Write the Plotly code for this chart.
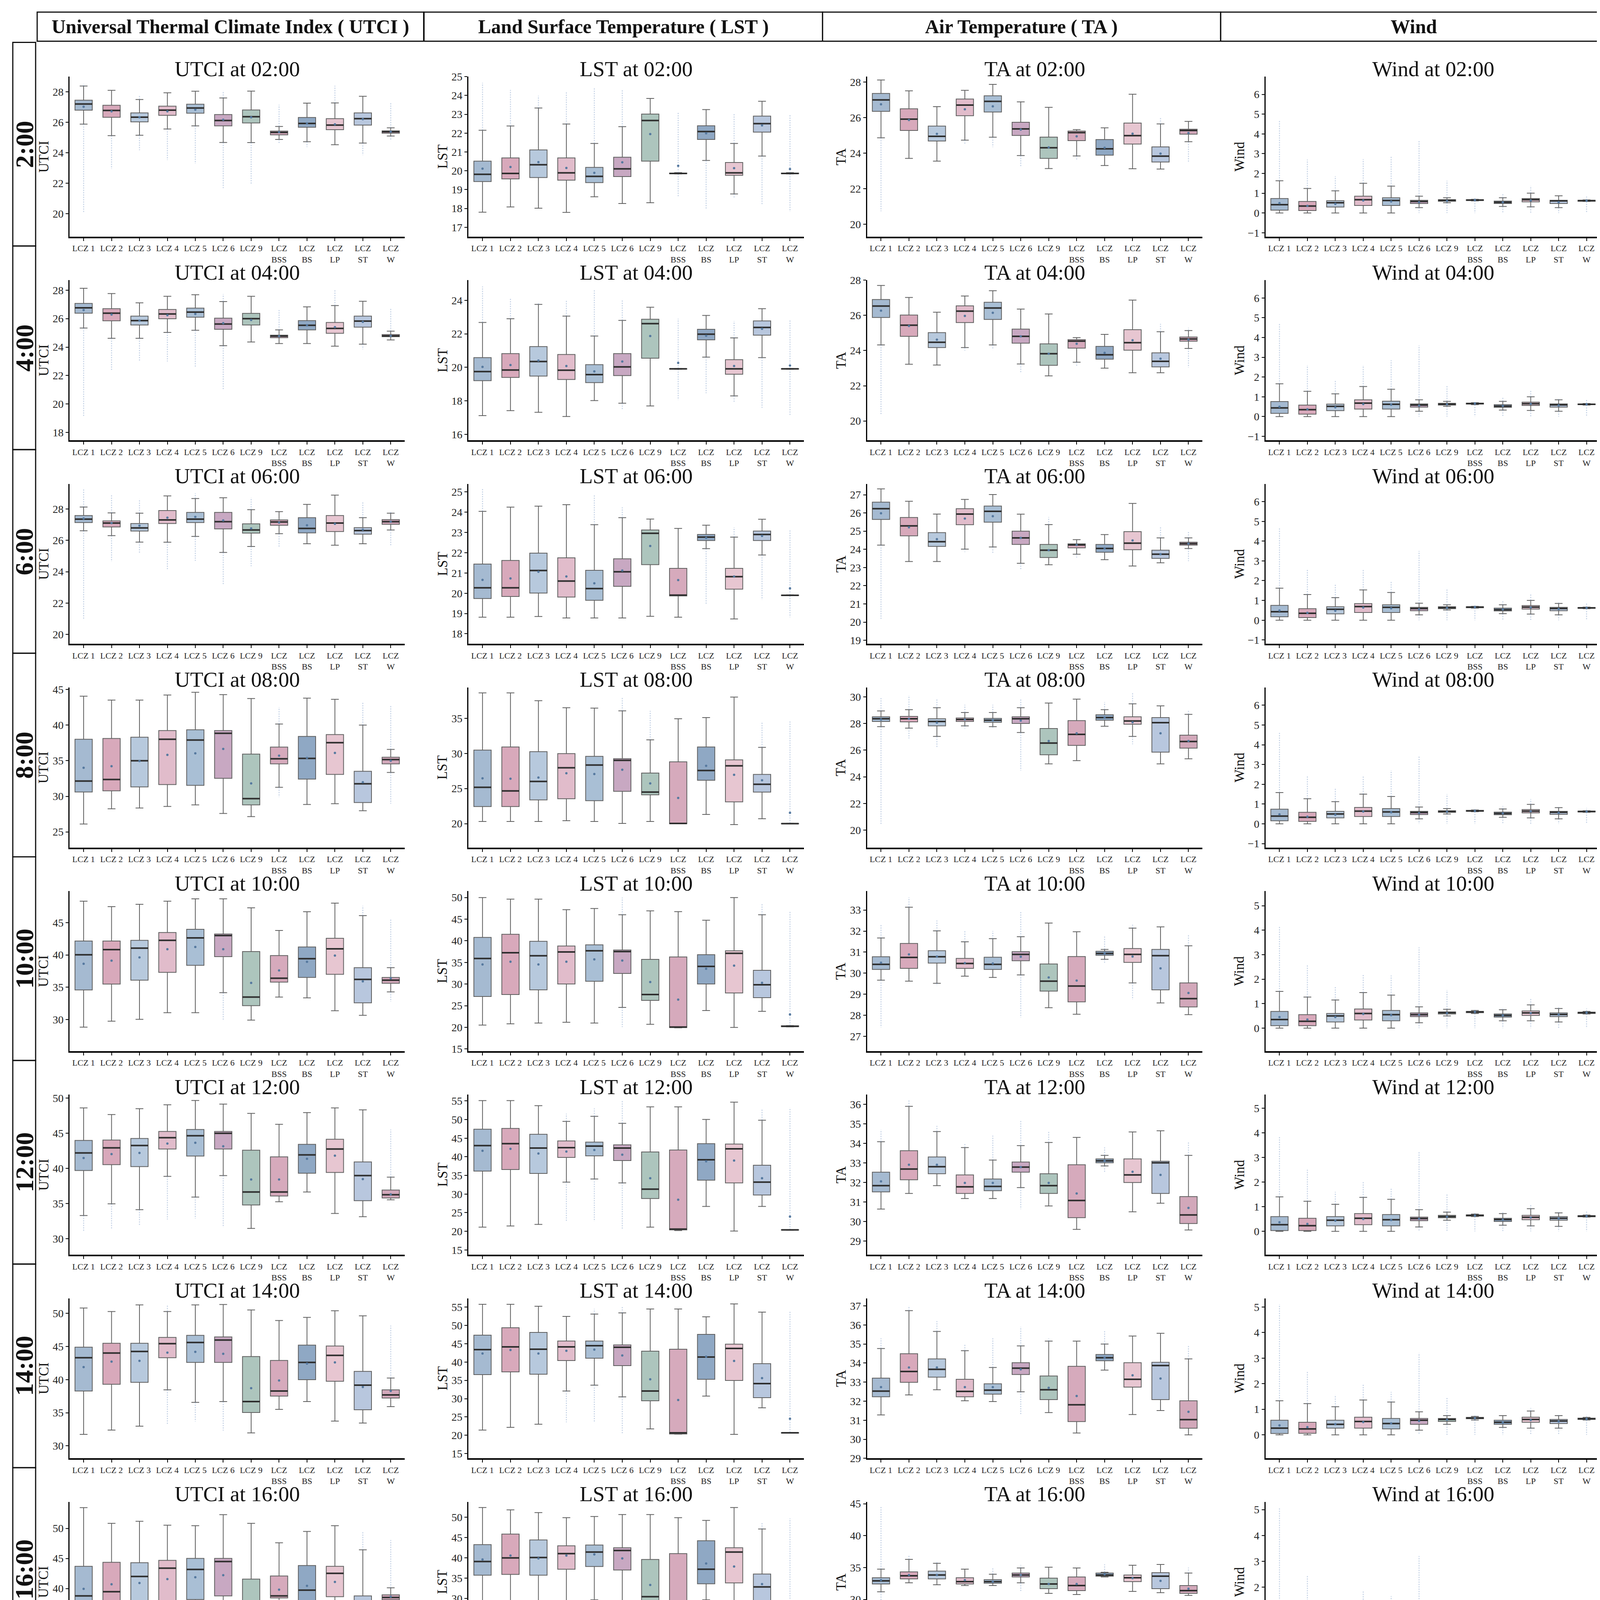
import plotly.graph_objects as go

CATS = ['LCZ 1', 'LCZ 2', 'LCZ 3', 'LCZ 4', 'LCZ 5', 'LCZ 6', 'LCZ 9',
        'LCZ<br>BSS', 'LCZ<br>BS', 'LCZ<br>LP', 'LCZ<br>ST', 'LCZ<br>W']
HOURS = ['02', '04', '06', '08', '10', '12', '14', '16', '18', '20', '22']
ROW_LABELS = ['2:00', '4:00', '6:00', '8:00', '10:00', '12:00', '14:00', '16:00', '18:00', '20:00', '22:00']
VARS = ['UTCI', 'LST', 'TA', 'Wind']
HEADERS = ['Universal Thermal Climate Index ( UTCI )', 'Land Surface Temperature ( LST )',
           'Air Temperature ( TA )', 'Wind']
N = None

# ---------------- 02:00 ----------------
UTCI_02_LO = [25.88, 25.13, 25.15, 25.56, 25.77, 24.68, 24.67, 24.88, 24.73, 24.53, 24.64, 25.10]
UTCI_02_Q1 = [26.80, 26.33, 26.03, 26.46, 26.60, 25.77, 25.96, 25.18, 25.68, 25.52, 25.82, 25.29]
UTCI_02_MED = [27.20, 26.78, 26.34, 26.80, 26.94, 26.12, 26.37, 25.34, 25.93, 25.82, 26.24, 25.38]
UTCI_02_Q3 = [27.45, 27.12, 26.62, 27.06, 27.19, 26.51, 26.81, 25.43, 26.32, 26.24, 26.62, 25.44]
UTCI_02_HI = [28.38, 28.10, 27.50, 27.94, 28.04, 27.60, 28.05, 25.73, 27.26, 27.27, 27.71, 25.64]
UTCI_02_MEAN = [27.02, 26.72, 26.33, 26.72, 26.83, 26.17, 26.33, 25.36, 25.93, 25.87, 26.21, 25.38]
UTCI_02_OHI = [28.55, N, 27.80, N, N, 28.07, N, 27.15, N, 28.40, N, 27.26]
UTCI_02_OLO = [20.07, 22.95, 24.17, 23.53, 23.29, 21.69, 21.96, 24.62, 24.38, N, 23.85, 24.79]

LST_02_LO = [17.80, 18.08, 18.01, 17.79, 18.62, 18.26, 18.30, 19.83, 20.55, 18.77, 20.78, 19.83]
LST_02_Q1 = [19.43, 19.57, 19.64, 19.50, 19.37, 19.69, 20.51, 19.84, 21.66, 19.76, 22.05, 19.84]
LST_02_MED = [19.81, 19.86, 20.32, 19.89, 19.70, 20.10, 22.67, 19.86, 22.08, 19.89, 22.50, 19.86]
LST_02_Q3 = [20.51, 20.68, 21.11, 20.68, 20.18, 20.72, 23.01, 19.88, 22.39, 20.44, 22.90, 19.88]
LST_02_HI = [22.15, 22.38, 23.33, 22.48, 21.45, 22.34, 23.84, 19.90, 23.25, 21.45, 23.69, 19.90]
LST_02_MEAN = [20.11, 20.20, 20.46, 20.15, 19.89, 20.45, 21.95, 20.26, 21.99, 20.14, 22.41, 20.09]
LST_02_OHI = [24.67, 24.29, 23.98, 24.20, 24.42, 24.29, N, 23.10, N, 23.01, N, 23.00]
LST_02_OLO = [N, N, N, N, N, N, N, 18.60, 17.96, 18.52, 18.17, 17.83]

TA_02_LO = [24.86, 23.70, 23.55, 24.73, 24.89, 23.86, 23.13, 23.84, 23.30, 23.12, 23.10, 24.64]
TA_02_Q1 = [26.35, 25.27, 24.68, 26.10, 26.31, 24.99, 23.70, 24.70, 23.88, 24.51, 23.50, 25.06]
TA_02_MED = [26.99, 25.91, 24.94, 26.70, 26.91, 25.36, 24.30, 25.15, 24.24, 24.98, 23.83, 25.27]
TA_02_Q3 = [27.35, 26.49, 25.52, 27.04, 27.22, 25.73, 24.90, 25.24, 24.76, 25.69, 24.35, 25.34]
TA_02_HI = [28.11, 27.50, 26.61, 27.53, 27.86, 26.88, 26.57, 25.32, 25.42, 27.31, 25.64, 25.78]
TA_02_MEAN = [26.74, 25.86, 25.08, 26.46, 26.63, 25.32, 24.32, 24.94, 24.30, 25.09, 23.97, 25.13]
TA_02_OHI = [N, N, N, N, N, N, N, N, N, N, 26.03, N]
TA_02_OLO = [20.73, N, N, 24.48, 24.34, 23.23, N, 23.58, N, N, N, 23.49]

WIND_02_LO = [0, 0, 0, 0, 0, 0.27, 0.52, 0.61, 0.33, 0.31, 0.27, 0.58]
WIND_02_Q1 = [0.14, 0.12, 0.30, 0.38, 0.38, 0.48, 0.59, 0.63, 0.48, 0.56, 0.48, 0.59]
WIND_02_MED = [0.42, 0.35, 0.52, 0.67, 0.63, 0.58, 0.64, 0.65, 0.54, 0.67, 0.61, 0.62]
WIND_02_Q3 = [0.73, 0.58, 0.62, 0.85, 0.77, 0.64, 0.67, 0.67, 0.60, 0.73, 0.64, 0.64]
WIND_02_HI = [1.63, 1.24, 1.12, 1.50, 1.36, 0.85, 0.77, 0.69, 0.77, 1.00, 0.87, 0.66]
WIND_02_MEAN = [0.50, 0.36, 0.46, 0.63, 0.58, 0.54, 0.61, 0.65, 0.54, 0.63, 0.54, 0.62]
WIND_02_OHI = [4.70, 2.70, 1.86, 2.72, 2.86, 3.67, 1.63, 0.75, 0.95, 1.37, N, 0.83]
WIND_02_OLO = [N, N, N, N, N, 0, 0, 0, 0, 0, 0, 0]

# ---------------- 04:00 ----------------
UTCI_04_LO = [25.34, 24.62, 24.62, 25.03, 25.18, 24.10, 24.36, 24.25, 24.25, 24.06, 24.21, 24.50]
UTCI_04_Q1 = [26.38, 25.85, 25.55, 25.99, 26.10, 25.25, 25.55, 24.66, 25.21, 24.97, 25.40, 24.73]
UTCI_04_MED = [26.76, 26.38, 25.86, 26.33, 26.46, 25.62, 26.00, 24.77, 25.53, 25.31, 25.83, 24.79]
UTCI_04_Q3 = [27.07, 26.70, 26.18, 26.64, 26.74, 26.03, 26.37, 24.84, 25.86, 25.73, 26.18, 24.88]
UTCI_04_HI = [28.13, 27.76, 27.11, 27.57, 27.68, 27.20, 27.57, 25.21, 26.83, 26.92, 27.22, 25.12]
UTCI_04_MEAN = [26.60, 26.29, 25.86, 26.24, 26.33, 25.68, 25.90, 24.77, 25.53, 25.40, 25.77, 24.79]
UTCI_04_OHI = [N, N, N, N, N, 27.72, N, 26.60, N, 28.00, N, 26.70]
UTCI_04_OLO = [19.10, 22.34, 22.99, 22.99, 22.61, 20.98, N, N, N, N, 23.85, N]

LST_04_LO = [17.12, 17.42, 17.32, 17.07, 18.02, 17.86, 17.70, 19.89, 20.61, 18.30, 20.58, 19.89]
LST_04_Q1 = [19.21, 19.40, 19.48, 19.28, 19.09, 19.51, 20.55, 19.90, 21.64, 19.59, 21.92, 19.90]
LST_04_MED = [19.75, 19.84, 20.35, 19.83, 19.57, 20.03, 22.61, 19.91, 21.98, 19.91, 22.38, 19.91]
LST_04_Q3 = [20.58, 20.82, 21.24, 20.77, 20.16, 20.82, 22.87, 19.92, 22.27, 20.46, 22.77, 19.92]
LST_04_HI = [22.68, 22.90, 23.76, 23.06, 21.87, 22.80, 23.59, 19.93, 23.10, 21.76, 23.50, 19.93]
LST_04_MEAN = [20.03, 20.14, 20.41, 20.08, 19.76, 20.35, 21.87, 20.27, 21.89, 20.08, 22.30, 20.11]
LST_04_OHI = [24.83, 24.10, 23.90, 24.00, 24.60, 24.00, N, 22.90, N, 22.76, N, 22.85]
LST_04_OLO = [N, N, N, N, N, 17.50, N, 18.06, 18.46, 17.90, 17.59, 17.12]

TA_04_LO = [24.32, 23.22, 23.18, 24.17, 24.32, 23.24, 22.56, 23.34, 23.00, 22.74, 22.74, 24.12]
TA_04_Q1 = [25.88, 24.81, 24.17, 25.59, 25.77, 24.42, 23.16, 24.14, 23.51, 24.02, 23.07, 24.53]
TA_04_MED = [26.53, 25.44, 24.47, 26.24, 26.42, 24.81, 23.82, 24.54, 23.76, 24.45, 23.39, 24.66]
TA_04_Q3 = [26.90, 26.02, 25.02, 26.54, 26.75, 25.22, 24.38, 24.62, 24.24, 25.19, 23.87, 24.77]
TA_04_HI = [27.70, 27.02, 26.18, 27.10, 27.40, 26.36, 26.08, 24.74, 24.92, 26.87, 25.07, 25.14]
TA_04_MEAN = [26.27, 25.40, 24.62, 25.97, 26.15, 24.81, 23.82, 24.39, 23.87, 24.59, 23.54, 24.62]
TA_04_OHI = [N, N, N, N, N, N, N, N, N, N, 25.52, 25.30]
TA_04_OLO = [20.34, N, N, 24.00, 24.05, 22.74, N, 23.10, N, N, N, 23.04]

WIND_04_LO = [0, 0, 0, 0, 0, 0.27, 0.52, 0.60, 0.33, 0.31, 0.27, 0.58]
WIND_04_Q1 = [0.16, 0.12, 0.30, 0.38, 0.38, 0.48, 0.58, 0.63, 0.47, 0.56, 0.48, 0.60]
WIND_04_MED = [0.44, 0.35, 0.52, 0.68, 0.62, 0.58, 0.63, 0.66, 0.53, 0.65, 0.59, 0.62]
WIND_04_Q3 = [0.76, 0.58, 0.63, 0.85, 0.78, 0.64, 0.67, 0.68, 0.60, 0.73, 0.64, 0.64]
WIND_04_HI = [1.66, 1.28, 1.15, 1.52, 1.38, 0.85, 0.77, 0.70, 0.77, 1.00, 0.85, 0.66]
WIND_04_MEAN = [0.50, 0.37, 0.47, 0.63, 0.60, 0.55, 0.62, 0.66, 0.54, 0.64, 0.56, 0.62]
WIND_04_OHI = [4.70, 2.60, 1.85, 2.60, 2.85, 3.60, 1.60, 0.75, 0.95, 1.33, 0.90, 0.85]
WIND_04_OLO = [N, N, N, N, N, 0, 0, 0, 0, 0, 0, 0]

# ---------------- 06:00 ----------------
UTCI_06_LO = [26.61, 26.30, 25.89, 25.88, 26.25, 25.23, 25.61, 26.42, 25.78, 25.69, 25.78, 26.66]
UTCI_06_Q1 = [27.13, 26.85, 26.59, 27.07, 27.13, 26.73, 26.46, 26.96, 26.47, 26.56, 26.39, 27.02]
UTCI_06_MED = [27.35, 27.10, 26.79, 27.30, 27.35, 27.19, 26.66, 27.17, 26.76, 27.10, 26.62, 27.19]
UTCI_06_Q3 = [27.58, 27.24, 27.07, 27.90, 27.78, 27.78, 27.05, 27.30, 27.44, 27.58, 26.81, 27.32]
UTCI_06_HI = [28.12, 27.75, 27.73, 28.83, 28.66, 28.71, 27.95, 27.83, 28.29, 28.88, 27.44, 27.73]
UTCI_06_MEAN = [27.39, 27.10, 26.93, 27.44, 27.49, 27.27, 26.76, 27.13, 26.96, 27.05, 26.68, 27.19]
UTCI_06_OHI = [29.30, 28.88, 28.63, N, 29.00, N, 28.71, N, N, N, 28.49, 27.85]
UTCI_06_OLO = [20.95, 24.64, 25.15, 24.13, 24.69, 23.16, 24.35, 25.60, N, N, N, 25.69]

LST_06_LO = [18.82, 18.82, 18.85, 18.78, 18.78, 18.78, 18.86, 18.82, 22.20, 18.73, 21.89, 19.88]
LST_06_Q1 = [19.74, 19.84, 20.01, 19.81, 19.65, 20.34, 21.41, 19.87, 22.60, 20.20, 22.60, 19.89]
LST_06_MED = [20.27, 20.27, 21.12, 20.60, 20.23, 21.06, 22.96, 19.91, 22.77, 20.82, 22.90, 19.90]
LST_06_Q3 = [21.44, 21.62, 21.98, 21.75, 21.13, 21.70, 23.12, 21.23, 22.90, 21.23, 23.07, 19.91]
LST_06_HI = [24.04, 24.25, 24.30, 24.37, 23.38, 23.73, 23.66, 23.20, 23.36, 22.77, 23.65, 19.92]
LST_06_MEAN = [20.66, 20.73, 21.06, 20.83, 20.49, 21.12, 22.33, 20.65, 22.73, 20.83, 22.83, 20.24]
LST_06_OHI = [25.20, N, N, N, 24.87, 24.24, N, N, N, 23.25, N, 23.10]
LST_06_OLO = [N, N, N, N, N, N, N, N, 19.48, N, 19.68, 18.82]

TA_06_LO = [24.23, 23.33, 23.33, 24.01, 24.13, 23.23, 23.15, 23.73, 23.43, 23.08, 23.26, 24.04]
TA_06_Q1 = [25.64, 24.74, 24.16, 25.35, 25.49, 24.27, 23.55, 24.08, 23.84, 23.98, 23.50, 24.23]
TA_06_MED = [26.23, 25.29, 24.42, 25.94, 26.09, 24.63, 23.95, 24.24, 24.05, 24.34, 23.73, 24.31]
TA_06_Q3 = [26.59, 25.75, 24.92, 26.23, 26.38, 25.00, 24.27, 24.30, 24.27, 24.97, 23.95, 24.39]
TA_06_HI = [27.32, 26.64, 25.94, 26.74, 27.01, 25.93, 25.36, 24.53, 24.81, 26.52, 24.63, 24.63]
TA_06_MEAN = [25.98, 25.21, 24.56, 25.69, 25.82, 24.63, 23.95, 24.24, 24.05, 24.49, 23.73, 24.31]
TA_06_OHI = [N, N, N, N, N, N, 25.77, N, N, N, 25.21, 25.00]
TA_06_OLO = [20.18, N, N, 23.85, 23.75, 22.90, N, 23.55, N, N, N, 23.35]

WIND_06_LO = [0, 0, 0, 0, 0, 0.27, 0.52, 0.61, 0.33, 0.31, 0.27, 0.58]
WIND_06_Q1 = [0.17, 0.13, 0.32, 0.39, 0.39, 0.48, 0.58, 0.63, 0.47, 0.56, 0.48, 0.60]
WIND_06_MED = [0.43, 0.35, 0.55, 0.69, 0.65, 0.59, 0.63, 0.66, 0.53, 0.66, 0.59, 0.62]
WIND_06_Q3 = [0.75, 0.58, 0.68, 0.84, 0.78, 0.65, 0.68, 0.68, 0.61, 0.74, 0.65, 0.64]
WIND_06_HI = [1.62, 1.30, 1.14, 1.53, 1.40, 0.86, 0.78, 0.70, 0.78, 1.00, 0.85, 0.66]
WIND_06_MEAN = [0.49, 0.37, 0.48, 0.64, 0.60, 0.55, 0.62, 0.66, 0.54, 0.64, 0.56, 0.62]
WIND_06_OHI = [4.68, 2.60, 1.80, 2.56, 1.95, 3.50, 1.55, 0.75, 0.95, 1.30, 0.90, 0.85]
WIND_06_OLO = [N, N, N, N, N, 0, 0, 0, 0, 0, 0, 0]

# ---------------- 08:00 ----------------
UTCI_08_LO = [26.10, 28.24, 28.35, 28.57, 28.79, 27.58, 27.14, 31.26, 28.85, 28.96, 27.97, 33.35]
UTCI_08_Q1 = [30.60, 30.77, 31.32, 31.65, 31.54, 32.53, 28.79, 34.56, 32.42, 33.08, 29.12, 34.56]
UTCI_08_MED = [32.14, 32.36, 35.00, 38.02, 37.91, 38.85, 29.67, 35.27, 35.33, 37.53, 31.76, 35.16]
UTCI_08_Q3 = [38.02, 38.13, 38.30, 39.23, 39.34, 39.23, 35.93, 36.92, 38.41, 38.68, 33.52, 35.49]
UTCI_08_HI = [44.07, 43.52, 43.52, 44.23, 44.62, 44.29, 43.74, 40.16, 43.79, 43.63, 40.00, 36.59]
UTCI_08_MEAN = [34.01, 34.23, 34.95, 35.82, 36.04, 36.65, 31.81, 35.71, 35.38, 36.10, 31.98, 35.00]
UTCI_08_OHI = [N, N, N, N, N, N, N, 42.50, N, N, 43.24, 42.70]
UTCI_08_OLO = [N, N, N, N, N, N, N, 29.90, N, N, N, 28.96]

LST_08_LO = [20.31, 20.31, 20.31, 20.42, 20.31, 20.03, 20.31, 19.98, 21.31, 19.86, 20.70, 19.98]
LST_08_Q1 = [22.43, 22.43, 23.38, 23.55, 23.27, 24.60, 24.10, 19.99, 26.17, 23.10, 24.50, 19.99]
LST_08_MED = [25.17, 24.66, 26.01, 27.96, 28.35, 29.02, 24.50, 20.03, 27.57, 28.24, 25.61, 20.00]
LST_08_Q3 = [30.47, 30.92, 30.25, 29.97, 29.58, 29.25, 27.20, 28.80, 30.92, 29.08, 27.01, 20.02]
LST_08_HI = [38.63, 38.63, 37.51, 36.51, 36.45, 36.06, 31.93, 34.94, 35.11, 38.02, 30.87, 20.04]
LST_08_MEAN = [26.45, 26.40, 26.56, 27.18, 27.07, 27.68, 25.73, 23.66, 28.24, 26.96, 26.17, 21.54]
LST_08_OHI = [N, N, N, N, N, 37.90, 36.06, N, N, N, 34.55, 34.55]
LST_08_OLO = [N, N, N, N, N, N, N, N, N, N, N, N]

TA_08_LO = [27.76, 27.65, 27.03, 27.82, 27.76, 27.32, 24.97, 25.21, 27.79, 27.03, 24.97, 25.35]
TA_08_Q1 = [28.15, 28.12, 27.82, 28.15, 28.09, 28.00, 25.65, 26.35, 28.24, 27.94, 25.85, 26.15]
TA_08_MED = [28.35, 28.35, 28.15, 28.29, 28.24, 28.35, 26.53, 27.18, 28.44, 28.18, 28.06, 26.65]
TA_08_Q3 = [28.50, 28.53, 28.35, 28.41, 28.38, 28.50, 27.62, 28.21, 28.65, 28.50, 28.44, 27.12]
TA_08_HI = [28.94, 29.03, 29.18, 28.82, 28.82, 29.18, 29.53, 29.82, 29.03, 29.47, 29.32, 28.68]
TA_08_MEAN = [28.29, 28.35, 28.06, 28.29, 28.24, 28.21, 26.68, 27.26, 28.44, 28.09, 27.26, 26.68]
TA_08_OHI = [29.90, 30.10, 29.80, 29.40, 29.40, 29.80, N, N, 29.60, 30.30, N, 29.00]
TA_08_OLO = [20.44, 26.88, 26.15, 27.60, 27.60, 24.47, N, N, N, 26.44, N, N]

WIND_08_LO = [0, 0, 0, 0, 0, 0.25, 0.50, 0.61, 0.33, 0.30, 0.25, 0.58]
WIND_08_Q1 = [0.15, 0.12, 0.30, 0.37, 0.37, 0.47, 0.58, 0.63, 0.46, 0.55, 0.48, 0.60]
WIND_08_MED = [0.39, 0.33, 0.50, 0.64, 0.60, 0.57, 0.62, 0.65, 0.52, 0.64, 0.58, 0.62]
WIND_08_Q3 = [0.74, 0.58, 0.63, 0.83, 0.77, 0.63, 0.66, 0.68, 0.59, 0.72, 0.63, 0.64]
WIND_08_HI = [1.58, 1.27, 1.12, 1.50, 1.38, 0.85, 0.77, 0.70, 0.75, 0.98, 0.82, 0.66]
WIND_08_MEAN = [0.48, 0.36, 0.46, 0.62, 0.58, 0.54, 0.61, 0.65, 0.53, 0.63, 0.55, 0.62]
WIND_08_OHI = [4.60, 2.40, 1.80, 2.40, 2.70, 3.40, 1.50, 0.75, 0.90, 1.25, 0.85, 0.80]
WIND_08_OLO = [N, N, N, N, N, 0, 0, 0, 0, 0, 0, 0]

# ---------------- 10:00 ----------------
UTCI_10_LO = [28.82, 29.73, 30.03, 31.06, 31.06, 34.15, 29.91, 33.48, 33.36, 31.36, 30.64, 34.27]
UTCI_10_Q1 = [34.58, 35.48, 36.09, 37.30, 38.39, 39.73, 32.15, 35.79, 36.52, 37.00, 32.58, 35.61]
UTCI_10_MED = [40.03, 40.82, 41.06, 42.27, 42.64, 43.00, 33.48, 36.39, 39.42, 40.94, 36.21, 36.09]
UTCI_10_Q3 = [42.15, 42.15, 42.27, 43.48, 43.97, 43.24, 40.52, 39.91, 41.24, 42.58, 38.03, 36.52]
UTCI_10_HI = [48.33, 47.48, 47.85, 48.33, 48.70, 48.70, 47.30, 43.79, 46.70, 48.03, 46.09, 38.03]
UTCI_10_MEAN = [38.64, 39.12, 39.61, 40.88, 41.24, 40.88, 35.67, 37.61, 38.94, 39.91, 35.91, 36.39]
UTCI_10_OHI = [N, N, N, N, N, N, N, N, N, N, 47.60, 45.50]
UTCI_10_OLO = [N, N, N, N, N, 29.85, N, N, N, N, N, 32.76]

LST_10_LO = [20.52, 20.80, 20.98, 21.16, 20.98, 24.59, 20.70, 19.89, 23.87, 19.98, 23.69, 20.10]
LST_10_Q1 = [27.12, 27.58, 28.66, 30.02, 30.65, 32.46, 26.22, 19.95, 30.02, 27.94, 26.85, 20.15]
LST_10_MED = [35.90, 37.25, 36.53, 37.43, 37.70, 37.52, 27.58, 20.07, 34.09, 37.10, 29.84, 20.25]
LST_10_Q3 = [40.78, 41.50, 39.87, 38.79, 39.06, 37.88, 35.71, 36.26, 36.80, 37.70, 33.18, 20.35]
LST_10_HI = [50.00, 49.64, 49.64, 47.20, 47.47, 46.02, 46.93, 46.75, 44.76, 50.00, 46.02, 20.40]
LST_10_MEAN = [34.54, 35.17, 34.54, 35.17, 35.71, 35.44, 30.47, 26.40, 33.54, 34.27, 30.29, 22.97]
LST_10_OHI = [N, N, N, N, N, 50.00, N, N, N, N, 48.60, 46.75]
LST_10_OLO = [N, N, N, N, N, 20.07, N, N, N, N, N, N]

TA_10_LO = [29.67, 29.62, 29.52, 29.86, 29.80, 29.92, 28.36, 28.05, 30.66, 29.54, 28.59, 28.03]
TA_10_Q1 = [30.18, 30.23, 30.48, 30.23, 30.18, 30.59, 29.15, 28.64, 30.85, 30.51, 29.21, 28.40]
TA_10_MED = [30.42, 30.75, 30.78, 30.46, 30.42, 30.89, 29.62, 29.39, 30.94, 30.89, 30.83, 28.79]
TA_10_Q3 = [30.78, 31.41, 31.07, 30.70, 30.76, 31.02, 30.44, 30.79, 31.04, 31.17, 31.13, 29.54]
TA_10_HI = [31.67, 33.13, 32.01, 31.49, 31.64, 31.73, 32.38, 31.97, 31.13, 32.14, 32.20, 31.30]
TA_10_MEAN = [30.50, 30.89, 30.79, 30.48, 30.46, 30.78, 29.80, 29.65, 30.94, 30.79, 30.23, 29.06]
TA_10_OHI = [32.30, 33.60, 32.50, 32.00, 32.00, 32.90, N, N, 31.80, 32.30, N, 31.80]
TA_10_OLO = [27.43, N, 29.40, N, N, 27.90, N, N, 30.50, 28.75, N, N]

WIND_10_LO = [0, 0, 0, 0, 0, 0.22, 0.50, 0.60, 0.30, 0.30, 0.25, 0.58]
WIND_10_Q1 = [0.10, 0.10, 0.25, 0.33, 0.30, 0.47, 0.58, 0.63, 0.45, 0.52, 0.47, 0.60]
WIND_10_MED = [0.35, 0.28, 0.50, 0.60, 0.55, 0.55, 0.63, 0.66, 0.52, 0.62, 0.56, 0.63]
WIND_10_Q3 = [0.68, 0.55, 0.60, 0.78, 0.72, 0.62, 0.66, 0.68, 0.58, 0.70, 0.62, 0.65]
WIND_10_HI = [1.50, 1.27, 1.15, 1.45, 1.35, 0.87, 0.77, 0.72, 0.75, 0.95, 0.80, 0.68]
WIND_10_MEAN = [0.45, 0.35, 0.45, 0.58, 0.53, 0.54, 0.61, 0.66, 0.52, 0.61, 0.55, 0.63]
WIND_10_OHI = [4.15, 2.60, 1.70, 2.20, 2.15, 3.30, 1.55, 0.75, 0.85, 1.20, 0.85, 0.80]
WIND_10_OLO = [N, N, N, N, N, 0, 0, 0, 0, 0, 0, 0]

# ---------------- 12:00 ----------------
UTCI_12_LO = [33.29, 34.96, 34.12, 38.86, 35.91, 38.97, 31.45, 35.24, 36.63, 33.57, 33.12, 35.52]
UTCI_12_Q1 = [39.69, 40.53, 40.25, 42.76, 41.75, 42.76, 34.79, 36.07, 39.30, 39.42, 35.40, 35.79]
UTCI_12_MED = [42.20, 42.92, 43.26, 44.37, 44.65, 44.99, 36.63, 36.63, 41.92, 42.76, 38.97, 36.24]
UTCI_12_Q3 = [43.98, 44.04, 44.26, 45.26, 45.54, 45.26, 42.59, 41.64, 43.43, 44.15, 40.92, 36.91]
UTCI_12_HI = [48.61, 47.66, 48.50, 49.05, 49.67, 49.16, 47.83, 46.27, 47.94, 48.61, 48.33, 38.75]
UTCI_12_MEAN = [41.48, 42.03, 42.20, 43.54, 43.65, 43.15, 38.41, 38.41, 41.36, 41.81, 38.47, 36.30]
UTCI_12_OHI = [N, N, N, N, N, N, N, N, N, N, N, 45.54]
UTCI_12_OLO = [31.06, 31.34, 31.90, 32.73, 32.84, 31.62, N, N, N, N, N, N]

LST_12_LO = [21.10, 21.42, 21.84, 33.21, 34.05, 33.00, 21.10, 20.20, 26.68, 20.05, 26.68, 20.30]
LST_12_Q1 = [36.16, 36.58, 35.53, 39.84, 40.26, 39.00, 28.79, 20.37, 33.74, 33.00, 29.74, 20.34]
LST_12_MED = [43.00, 43.53, 42.37, 42.47, 42.89, 42.37, 31.32, 20.58, 39.21, 42.16, 33.21, 20.37]
LST_12_Q3 = [47.42, 47.63, 46.05, 44.26, 43.95, 43.21, 41.32, 41.84, 43.53, 43.42, 37.74, 20.40]
LST_12_HI = [55.10, 55.10, 53.74, 49.53, 50.89, 49.00, 53.42, 53.42, 50.05, 54.68, 49.84, 20.43]
LST_12_MEAN = [41.63, 42.16, 40.89, 41.42, 41.84, 40.58, 34.26, 28.47, 38.79, 39.00, 34.26, 23.95]
LST_12_OHI = [N, N, N, 51.60, 53.00, 55.00, N, N, N, N, 52.70, 53.20]
LST_12_OLO = [N, N, N, 22.68, 22.68, 20.58, N, N, N, N, N, N]

TA_12_LO = [30.64, 31.44, 31.84, 31.18, 31.18, 31.74, 30.80, 29.60, 32.85, 30.50, 30.94, 29.57]
TA_12_Q1 = [31.52, 32.14, 32.45, 31.44, 31.58, 32.53, 31.44, 30.20, 33.01, 32.00, 31.44, 29.90]
TA_12_MED = [31.84, 32.69, 32.81, 31.78, 31.80, 32.79, 31.84, 31.08, 33.11, 32.39, 33.01, 30.34]
TA_12_Q3 = [32.53, 33.63, 33.31, 32.39, 32.18, 33.05, 32.45, 32.91, 33.21, 33.21, 33.09, 31.28]
TA_12_HI = [34.09, 35.90, 34.61, 33.79, 33.15, 33.89, 34.05, 34.31, 33.39, 34.59, 34.65, 33.39]
TA_12_MEAN = [32.06, 32.91, 32.91, 31.98, 31.98, 32.79, 31.98, 31.44, 33.11, 32.55, 32.39, 30.70]
TA_12_OHI = [34.70, 36.20, 34.90, 34.00, 34.40, 35.20, 34.60, N, 33.80, N, N, 34.10]
TA_12_OLO = [N, N, N, N, N, 30.64, N, N, 32.50, N, N, N]

WIND_12_LO = [0, 0, 0, 0, 0, 0.18, 0.45, 0.60, 0.25, 0.22, 0.20, 0.58]
WIND_12_Q1 = [0.03, 0.03, 0.22, 0.27, 0.22, 0.43, 0.55, 0.62, 0.40, 0.47, 0.45, 0.59]
WIND_12_MED = [0.27, 0.23, 0.45, 0.53, 0.47, 0.52, 0.60, 0.65, 0.48, 0.57, 0.53, 0.62]
WIND_12_Q3 = [0.60, 0.53, 0.60, 0.72, 0.68, 0.58, 0.65, 0.67, 0.53, 0.65, 0.60, 0.64]
WIND_12_HI = [1.40, 1.22, 1.10, 1.38, 1.30, 0.88, 0.78, 0.70, 0.72, 0.92, 0.75, 0.66]
WIND_12_MEAN = [0.37, 0.30, 0.43, 0.50, 0.46, 0.51, 0.59, 0.64, 0.47, 0.56, 0.52, 0.62]
WIND_12_OHI = [3.85, 2.50, 1.60, 2.00, 1.75, 3.25, 1.50, 0.75, 0.80, 1.10, 0.80, 0.80]
WIND_12_OLO = [N, N, N, N, N, 0, 0, 0, 0, 0, 0, 0]

# ---------------- 14:00 ----------------
UTCI_14_LO = [31.72, 32.37, 32.96, 38.46, 36.57, 36.69, 31.95, 35.50, 36.69, 33.73, 33.43, 35.92]
UTCI_14_Q1 = [38.28, 39.29, 39.59, 43.31, 42.60, 42.60, 35.03, 37.51, 39.99, 39.76, 35.44, 37.22]
UTCI_14_MED = [43.31, 44.02, 44.26, 45.44, 45.62, 45.98, 36.69, 38.28, 42.60, 43.67, 39.17, 37.69]
UTCI_14_Q3 = [44.91, 45.50, 45.50, 46.39, 46.69, 46.45, 43.49, 42.90, 45.21, 45.09, 41.24, 38.46]
UTCI_14_HI = [50.83, 50.30, 51.30, 50.30, 51.30, 51.36, 50.53, 48.93, 49.41, 50.41, 49.64, 40.24]
UTCI_14_MEAN = [41.89, 42.72, 42.84, 44.08, 44.20, 43.91, 38.70, 39.88, 42.43, 42.60, 38.88, 38.28]
UTCI_14_OHI = [N, N, N, 51.30, N, N, N, N, N, N, N, 48.17]
UTCI_14_OLO = [N, N, N, 33.25, 33.67, 32.30, N, N, N, N, N, N]

LST_14_LO = [21.42, 22.16, 23.02, 32.08, 33.68, 30.48, 21.74, 20.30, 30.69, 20.25, 27.50, 20.60]
LST_14_Q1 = [36.56, 37.30, 36.66, 40.39, 41.03, 39.01, 29.41, 20.35, 35.28, 34.96, 30.27, 20.63]
LST_14_MED = [43.38, 44.13, 43.49, 44.13, 44.45, 44.02, 32.08, 20.67, 41.35, 43.70, 34.10, 20.67]
LST_14_Q3 = [47.32, 49.35, 48.07, 45.72, 45.72, 44.66, 42.95, 43.49, 47.54, 44.87, 39.54, 20.71]
LST_14_HI = [55.75, 55.75, 55.21, 52.44, 53.08, 53.40, 54.47, 54.47, 52.33, 55.85, 53.61, 20.74]
LST_14_MEAN = [42.31, 43.27, 42.31, 43.06, 43.38, 41.78, 35.28, 29.63, 41.46, 40.29, 35.60, 24.51]
LST_14_OHI = [N, N, N, N, 54.50, 55.20, N, N, N, N, N, 53.90]
LST_14_OLO = [N, N, N, 23.55, 23.55, 20.57, N, N, N, N, N, N]

TA_14_LO = [31.28, 32.33, 32.60, 32.02, 31.98, 32.49, 31.40, 30.33, 33.63, 31.30, 31.51, 30.23]
TA_14_Q1 = [32.23, 32.99, 33.26, 32.23, 32.37, 33.40, 32.08, 30.93, 34.12, 32.74, 32.08, 30.58]
TA_14_MED = [32.53, 33.56, 33.67, 32.51, 32.58, 33.73, 32.60, 31.81, 34.28, 33.15, 33.87, 31.03]
TA_14_Q3 = [33.21, 34.49, 34.22, 33.15, 32.91, 34.02, 33.32, 33.83, 34.45, 34.02, 34.04, 32.02]
TA_14_HI = [34.76, 36.75, 35.66, 34.65, 33.77, 34.90, 35.15, 35.15, 35.00, 35.42, 35.56, 34.22]
TA_14_MEAN = [32.74, 33.77, 33.77, 32.74, 32.74, 33.67, 32.70, 32.27, 34.28, 33.36, 33.19, 31.44]
TA_14_OHI = [35.30, 37.00, 36.20, 35.00, 35.30, 35.90, 35.30, N, 35.70, N, N, 34.90]
TA_14_OLO = [N, N, N, N, N, 31.30, N, N, N, N, N, N]

WIND_14_LO = [0, 0, 0, 0, 0, 0.18, 0.41, 0.58, 0.29, 0.26, 0.26, 0.58]
WIND_14_Q1 = [0.05, 0.06, 0.26, 0.26, 0.23, 0.41, 0.52, 0.63, 0.41, 0.49, 0.44, 0.60]
WIND_14_MED = [0.26, 0.23, 0.41, 0.52, 0.44, 0.57, 0.60, 0.66, 0.49, 0.60, 0.54, 0.63]
WIND_14_Q3 = [0.57, 0.49, 0.57, 0.69, 0.64, 0.64, 0.64, 0.68, 0.57, 0.69, 0.60, 0.65]
WIND_14_HI = [1.33, 1.22, 1.10, 1.36, 1.28, 0.90, 0.75, 0.72, 0.75, 0.93, 0.75, 0.68]
WIND_14_MEAN = [0.37, 0.30, 0.42, 0.50, 0.45, 0.54, 0.59, 0.65, 0.48, 0.58, 0.52, 0.62]
WIND_14_OHI = [5.10, 2.50, 1.56, 2.00, 1.68, 3.20, 1.48, 0.76, 0.75, 1.05, 0.78, 0.78]
WIND_14_OLO = [N, N, N, N, N, 0, 0, 0, 0, 0, 0, 0]

# ---------------- 16:00 ----------------
UTCI_16_LO = [31.82, 32.47, 32.92, 33.44, 33.31, 32.27, 31.82, 36.36, 35.06, 33.31, 32.47, 36.82]
UTCI_16_Q1 = [36.82, 37.47, 37.47, 37.79, 38.18, 38.77, 33.44, 38.44, 37.21, 38.64, 33.64, 38.12]
UTCI_16_MED = [38.77, 39.48, 42.01, 43.38, 43.18, 44.48, 34.61, 38.77, 39.74, 42.53, 36.56, 38.51]
UTCI_16_Q3 = [43.70, 44.35, 44.29, 44.68, 45.00, 45.00, 41.56, 42.08, 43.83, 43.70, 38.77, 38.96]
UTCI_16_HI = [53.44, 50.84, 51.17, 50.52, 50.45, 52.27, 50.84, 47.60, 49.48, 50.45, 46.43, 40.13]
UTCI_16_MEAN = [39.94, 40.71, 40.91, 41.56, 41.88, 42.21, 36.95, 39.81, 40.45, 41.10, 36.95, 38.64]
UTCI_16_OHI = [N, N, N, N, N, N, N, N, N, N, 49.50, 48.05]
UTCI_16_OLO = [N, N, N, N, N, N, N, N, N, N, N, 34.00]

LST_16_LO = [24.47, 22.74, 23.51, 28.52, 29.67, 28.90, 21.97, 20.45, 29.67, 21.00, 26.88, 20.55]
LST_16_Q1 = [35.74, 35.93, 35.74, 37.19, 37.86, 37.00, 28.32, 20.55, 33.62, 33.82, 28.81, 20.58]
LST_16_MED = [39.11, 40.00, 40.08, 41.04, 41.43, 41.81, 30.44, 20.81, 37.19, 41.43, 32.85, 20.62]
LST_16_Q3 = [43.26, 45.86, 44.41, 42.97, 43.16, 42.49, 39.60, 41.04, 44.22, 42.49, 36.03, 20.66]
LST_16_HI = [52.41, 51.83, 51.16, 49.90, 50.19, 50.67, 50.67, 49.90, 49.23, 52.41, 47.11, 20.70]
LST_16_MEAN = [39.60, 40.56, 39.88, 40.56, 40.85, 39.88, 33.33, 28.23, 38.63, 37.86, 33.53, 23.89]
LST_16_OHI = [N, N, N, N, N, N, N, N, N, N, 48.70, 49.70]
LST_16_OLO = [21.77, N, N, 24.00, 24.00, 20.62, N, N, N, 20.30, N, N]

TA_16_LO = [31.20, 32.61, 32.30, 32.18, 32.18, 32.61, 30.95, 30.77, 33.53, 31.26, 31.07, 30.64]
TA_16_Q1 = [32.42, 33.22, 33.22, 32.42, 32.55, 33.53, 31.69, 31.38, 33.65, 32.79, 31.69, 30.95]
TA_16_MED = [32.91, 33.71, 33.83, 32.79, 32.79, 33.83, 32.42, 32.18, 33.83, 33.40, 33.65, 31.38]
TA_16_Q3 = [33.40, 34.33, 34.45, 33.40, 33.10, 34.14, 33.34, 33.53, 34.14, 33.83, 34.20, 32.18]
TA_16_HI = [34.75, 36.29, 35.67, 34.75, 33.96, 34.94, 35.06, 34.94, 34.26, 35.37, 35.49, 34.14]
TA_16_MEAN = [33.03, 33.83, 33.83, 33.03, 32.79, 33.83, 32.42, 32.42, 33.95, 33.34, 32.91, 31.69]
TA_16_OHI = [44.60, 36.90, 36.00, N, 35.00, 35.40, N, N, 35.50, N, N, 35.00]
TA_16_OLO = [23.96, N, N, N, N, 31.20, N, N, N, N, N, N]

WIND_16_LO = [0, 0, 0, 0, 0, 0.16, 0.42, 0.58, 0.28, 0.24, 0.24, 0.58]
WIND_16_Q1 = [0.04, 0.05, 0.25, 0.22, 0.20, 0.42, 0.53, 0.62, 0.40, 0.48, 0.43, 0.60]
WIND_16_MED = [0.22, 0.20, 0.43, 0.47, 0.40, 0.55, 0.59, 0.65, 0.48, 0.58, 0.53, 0.62]
WIND_16_Q3 = [0.55, 0.50, 0.57, 0.67, 0.62, 0.62, 0.63, 0.67, 0.55, 0.66, 0.59, 0.64]
WIND_16_HI = [1.28, 1.20, 1.08, 1.33, 1.26, 0.90, 0.75, 0.72, 0.73, 0.92, 0.75, 0.67]
WIND_16_MEAN = [0.34, 0.29, 0.40, 0.46, 0.42, 0.53, 0.58, 0.64, 0.47, 0.57, 0.51, 0.62]
WIND_16_OHI = [5.05, 2.45, 1.50, 1.85, 1.65, 3.20, 1.45, 0.75, 0.75, 1.00, 0.78, 0.78]
WIND_16_OLO = [N, N, N, N, N, 0, 0, 0, 0, 0, 0, 0]

# ---------------- 18:00 ----------------
UTCI_18_LO = [32.04, 32.50, 32.04, 32.39, 32.57, 31.36, 31.01, 31.26, 32.57, 31.79, 31.36, 32.07]
UTCI_18_Q1 = [34.09, 34.52, 34.20, 34.45, 34.45, 34.55, 31.86, 33.28, 33.10, 33.84, 31.96, 33.21]
UTCI_18_MED = [34.70, 34.98, 34.70, 34.98, 34.91, 35.97, 32.67, 33.63, 33.38, 34.70, 32.92, 33.45]
UTCI_18_Q3 = [35.33, 35.79, 35.58, 36.15, 35.62, 37.00, 34.20, 34.70, 35.62, 36.29, 33.28, 33.84]
UTCI_18_HI = [37.39, 37.89, 37.74, 38.81, 37.53, 40.65, 38.77, 36.86, 39.41, 40.01, 35.16, 34.91]
UTCI_18_MEAN = [34.87, 35.26, 34.98, 35.23, 35.16, 35.62, 33.20, 34.09, 34.09, 34.98, 33.03, 33.63]
UTCI_18_OHI = [40.65, 41.90, 41.80, 42.00, 41.50, 42.78, 41.90, 39.10, 40.70, 41.90, 40.30, 38.17]
UTCI_18_OLO = [30.90, 31.60, 31.80, N, 32.10, N, N, N, N, N, N, 31.10]

LST_18_LO = [28.97, 28.14, 28.34, 30.76, 31.38, 30.00, 21.93, 20.35, 28.00, 24.14, 26.41, 20.50]
LST_18_Q1 = [33.31, 33.66, 33.10, 34.00, 34.48, 33.86, 27.31, 20.41, 30.21, 31.45, 27.66, 20.52]
LST_18_MED = [34.69, 35.17, 34.69, 35.17, 35.59, 36.07, 28.69, 20.55, 31.79, 35.17, 29.66, 20.55]
LST_18_Q3 = [36.21, 37.10, 36.21, 36.21, 36.41, 36.41, 33.52, 32.48, 34.48, 36.28, 31.45, 20.58]
LST_18_HI = [40.41, 42.48, 41.10, 39.52, 39.52, 40.41, 40.41, 39.86, 40.34, 42.28, 36.97, 20.60]
LST_18_MEAN = [34.69, 35.38, 34.69, 35.17, 35.59, 34.69, 30.34, 25.38, 32.07, 32.97, 29.86, 22.62]
LST_18_OHI = [41.80, 43.00, 42.30, 40.50, 40.30, 42.30, N, N, N, N, 39.40, 38.90]
LST_18_OLO = [21.59, 22.80, 23.30, 24.34, 23.50, 20.55, N, N, N, 20.30, N, N]

TA_18_LO = [31.26, 31.65, 31.16, 31.81, 31.81, 31.61, 29.60, 30.16, 31.02, 30.97, 29.81, 30.08]
TA_18_Q1 = [31.77, 32.15, 31.98, 31.98, 31.94, 32.29, 30.24, 30.56, 31.37, 31.74, 30.27, 30.32]
TA_18_MED = [31.98, 32.45, 32.34, 32.10, 32.02, 32.61, 30.76, 31.05, 31.61, 31.98, 31.18, 30.60]
TA_18_Q3 = [32.21, 32.79, 32.53, 32.34, 32.15, 32.77, 31.73, 31.58, 32.05, 32.29, 31.40, 30.94]
TA_18_HI = [32.85, 33.74, 33.34, 32.85, 32.50, 33.47, 33.11, 32.77, 33.02, 33.18, 32.79, 31.82]
TA_18_MEAN = [32.02, 32.50, 32.26, 32.13, 32.07, 32.42, 30.97, 31.10, 31.73, 32.02, 30.97, 30.73]
TA_18_OHI = [35.00, 34.30, 33.40, N, 32.80, 33.50, N, N, 33.10, 33.20, N, 32.30]
TA_18_OLO = [29.68, N, 30.85, N, N, 29.79, N, N, N, N, N, N]

WIND_18_LO = [0, 0, 0, 0, 0, 0.15, 0.42, 0.58, 0.28, 0.22, 0.22, 0.58]
WIND_18_Q1 = [0.03, 0.03, 0.22, 0.20, 0.18, 0.42, 0.53, 0.62, 0.40, 0.47, 0.42, 0.60]
WIND_18_MED = [0.20, 0.18, 0.43, 0.43, 0.38, 0.52, 0.58, 0.65, 0.47, 0.56, 0.52, 0.62]
WIND_18_Q3 = [0.52, 0.48, 0.58, 0.63, 0.60, 0.62, 0.62, 0.67, 0.55, 0.64, 0.59, 0.64]
WIND_18_HI = [1.22, 1.16, 1.08, 1.30, 1.25, 0.90, 0.73, 0.70, 0.72, 0.90, 0.75, 0.66]
WIND_18_MEAN = [0.32, 0.28, 0.40, 0.44, 0.40, 0.52, 0.57, 0.64, 0.47, 0.56, 0.51, 0.62]
WIND_18_OHI = [5.00, 2.45, 1.52, 1.85, 1.65, 3.20, 1.45, 0.75, 0.75, 1.00, 0.78, 0.78]
WIND_18_OLO = [N, N, N, N, N, 0, 0, 0, 0, 0, 0, 0]

# ---------------- 20:00 ----------------
UTCI_20_LO = [30.00, 30.39, 29.77, 29.70, 30.09, 30.03, 27.70, 27.17, 28.68, 29.27, 27.97, 27.44]
UTCI_20_Q1 = [31.02, 31.21, 30.68, 30.88, 31.03, 30.65, 29.12, 27.67, 29.41, 30.12, 29.03, 27.62]
UTCI_20_MED = [31.38, 31.52, 30.95, 31.30, 31.32, 30.80, 29.64, 27.97, 29.62, 30.47, 29.33, 27.82]
UTCI_20_Q3 = [31.67, 31.74, 31.23, 31.64, 31.64, 31.03, 30.38, 29.02, 29.92, 30.70, 29.77, 28.03]
UTCI_20_HI = [32.67, 32.58, 32.09, 32.80, 32.58, 31.64, 32.30, 30.73, 30.65, 31.56, 30.88, 28.65]
UTCI_20_MEAN = [31.29, 31.41, 30.88, 31.24, 31.30, 30.76, 29.71, 28.30, 29.67, 30.27, 29.44, 27.92]
UTCI_20_OHI = [N, 33.10, 32.50, 33.50, 32.90, 31.90, N, N, 31.80, 32.00, 32.00, 30.90]
UTCI_20_OLO = [26.26, 28.70, 29.40, 29.10, 29.40, 27.50, N, N, 28.40, 28.00, 27.80, N]

LST_20_LO = [27.86, 28.34, 26.96, 28.79, 29.36, 29.00, 21.87, 20.17, 25.77, 26.00, 24.66, 20.38]
LST_20_Q1 = [29.90, 30.29, 29.45, 30.26, 30.59, 30.14, 25.65, 20.41, 26.54, 28.91, 25.80, 20.40]
LST_20_MED = [30.74, 31.04, 30.50, 30.86, 31.04, 30.74, 26.37, 20.47, 26.84, 30.35, 26.31, 20.41]
LST_20_Q3 = [31.34, 31.69, 31.16, 31.22, 31.40, 31.01, 29.45, 26.66, 27.05, 30.74, 26.66, 20.43]
LST_20_HI = [33.40, 33.64, 33.70, 32.68, 32.59, 32.23, 32.65, 32.29, 27.86, 33.10, 27.89, 20.45]
LST_20_MEAN = [30.35, 30.74, 30.14, 30.50, 30.95, 30.05, 27.26, 23.13, 26.84, 28.70, 26.25, 21.51]
LST_20_OHI = [N, 34.50, 33.90, 33.50, 33.30, 33.50, N, N, 29.90, N, 30.50, 30.60]
LST_20_OLO = [21.66, 22.60, 22.90, 23.90, 23.40, 25.20, N, N, N, 20.20, N, N]

TA_20_LO = [29.32, 29.34, 28.34, 29.29, 29.59, 28.64, 26.53, 27.32, 27.65, 28.23, 26.72, 27.92]
TA_20_Q1 = [30.12, 30.04, 29.25, 30.12, 30.25, 29.75, 27.06, 27.99, 28.34, 28.98, 27.27, 28.16]
TA_20_MED = [30.49, 30.37, 29.67, 30.47, 30.57, 30.28, 27.85, 28.26, 28.57, 29.69, 27.59, 28.26]
TA_20_Q3 = [30.63, 30.52, 30.06, 30.66, 30.71, 30.49, 28.66, 28.60, 28.77, 30.20, 27.94, 28.33]
TA_20_HI = [30.79, 31.12, 30.62, 30.83, 30.84, 30.76, 30.11, 29.48, 29.43, 30.63, 28.98, 28.57]
TA_20_MEAN = [30.28, 30.23, 29.65, 30.28, 30.38, 29.94, 27.94, 28.33, 28.55, 29.61, 27.63, 28.24]
TA_20_OHI = [N, N, N, N, N, N, N, 29.95, 29.80, N, 29.70, 29.20]
TA_20_OLO = [28.60, 28.80, N, 28.60, 28.60, 26.53, N, N, N, N, 26.70, 26.72]

WIND_20_LO = [0, 0, 0, 0, 0, 0.16, 0.41, 0.54, 0.27, 0.24, 0.24, 0.54]
WIND_20_Q1 = [0.08, 0.05, 0.24, 0.18, 0.18, 0.44, 0.51, 0.61, 0.44, 0.47, 0.44, 0.59]
WIND_20_MED = [0.24, 0.24, 0.44, 0.46, 0.39, 0.54, 0.57, 0.65, 0.49, 0.59, 0.54, 0.62]
WIND_20_Q3 = [0.52, 0.49, 0.59, 0.65, 0.59, 0.65, 0.61, 0.68, 0.57, 0.68, 0.59, 0.66]
WIND_20_HI = [1.23, 1.16, 1.08, 1.31, 1.23, 0.90, 0.73, 0.73, 0.78, 0.90, 0.78, 0.70]
WIND_20_MEAN = [0.34, 0.28, 0.41, 0.44, 0.40, 0.52, 0.57, 0.65, 0.49, 0.58, 0.52, 0.62]
WIND_20_OHI = [3.53, 2.34, 1.52, 1.88, 1.67, 3.20, 1.41, 0.75, 0.80, 1.05, 0.80, 0.85]
WIND_20_OLO = [N, N, N, N, N, 0, 0, 0, 0, 0, 0, 0]

# ---------------- 22:00 ----------------
UTCI_22_LO = [29.05, 29.01, 28.63, 28.66, 29.05, 28.63, 26.30, 26.47, 27.42, 27.67, 26.54, 26.65]
UTCI_22_Q1 = [29.97, 29.97, 29.48, 29.72, 29.90, 29.33, 27.88, 26.92, 28.33, 28.80, 27.99, 26.89]
UTCI_22_MED = [30.31, 30.38, 29.79, 30.14, 30.18, 29.60, 28.54, 27.39, 28.70, 29.25, 28.35, 27.13]
UTCI_22_Q3 = [30.60, 30.63, 30.10, 30.46, 30.46, 29.86, 29.43, 28.05, 28.94, 29.57, 28.98, 27.56]
UTCI_22_HI = [31.52, 31.52, 30.96, 31.55, 31.34, 30.56, 31.27, 29.79, 29.86, 30.70, 30.49, 28.59]
UTCI_22_MEAN = [30.25, 30.25, 29.79, 30.11, 30.18, 29.53, 28.63, 27.53, 28.65, 29.15, 28.49, 27.32]
UTCI_22_OHI = [N, 31.70, 31.10, 31.90, 31.70, 31.10, N, N, 30.10, 31.70, 30.90, 29.86]
UTCI_22_OLO = [25.23, 28.00, 28.20, 28.30, 28.50, 26.51, N, N, 27.20, 27.20, N, N]

LST_22_LO = [26.21, 27.02, 25.88, 26.63, 26.86, 27.05, 21.67, 20.12, 24.12, 25.65, 23.53, 20.25]
LST_22_Q1 = [27.84, 28.26, 27.44, 27.95, 28.02, 27.84, 24.53, 20.23, 24.81, 27.05, 24.49, 20.28]
LST_22_MED = [28.42, 28.72, 28.02, 28.33, 28.49, 28.07, 25.30, 20.30, 25.07, 27.67, 24.77, 20.30]
LST_22_Q3 = [28.88, 29.07, 28.44, 28.77, 28.84, 28.30, 26.81, 24.93, 25.28, 27.98, 25.16, 20.33]
LST_22_HI = [30.51, 30.30, 30.00, 30.07, 30.00, 29.05, 29.81, 28.95, 26.05, 29.35, 26.12, 20.35]
LST_22_MEAN = [28.09, 28.37, 27.79, 28.02, 28.37, 27.67, 25.65, 22.26, 25.05, 26.58, 24.93, 21.09]
LST_22_OHI = [N, 31.00, 30.80, 30.80, 30.50, 29.40, N, N, 27.70, 30.30, 27.80, 27.70]
LST_22_OLO = [21.86, 21.60, 22.00, 22.20, 23.20, 20.23, N, N, 23.50, 20.00, 22.30, 20.90]

TA_22_LO = [27.85, 27.81, 26.95, 27.96, 28.20, 27.38, 24.68, 26.52, 26.25, 26.59, 25.30, 27.00]
TA_22_Q1 = [28.87, 28.66, 27.90, 28.85, 28.98, 28.31, 25.55, 27.00, 26.88, 27.59, 25.91, 27.13]
TA_22_MED = [29.30, 28.96, 28.10, 29.22, 29.33, 28.80, 26.43, 27.20, 27.15, 28.15, 26.13, 27.18]
TA_22_Q3 = [29.55, 29.19, 28.49, 29.44, 29.52, 28.96, 27.48, 27.37, 27.48, 28.74, 26.68, 27.24]
TA_22_HI = [29.78, 29.55, 29.23, 29.73, 29.78, 29.28, 28.87, 27.85, 28.28, 29.52, 27.81, 27.34]
TA_22_MEAN = [29.12, 28.87, 28.15, 29.06, 29.17, 28.47, 26.48, 27.18, 27.15, 28.15, 26.35, 27.18]
TA_22_OHI = [N, N, N, N, N, N, N, 28.15, N, N, 28.45, 28.05]
TA_22_OLO = [N, N, 26.80, 27.80, 27.80, 24.82, N, 26.20, N, N, N, 25.70]

WIND_22_LO = [0, 0, 0, 0, 0, 0.14, 0.45, 0.58, 0.24, 0.22, 0.22, 0.56]
WIND_22_Q1 = [0.06, 0.05, 0.24, 0.21, 0.18, 0.44, 0.53, 0.62, 0.44, 0.47, 0.45, 0.59]
WIND_22_MED = [0.22, 0.22, 0.45, 0.45, 0.40, 0.54, 0.58, 0.66, 0.50, 0.58, 0.54, 0.63]
WIND_22_Q3 = [0.54, 0.50, 0.58, 0.65, 0.61, 0.61, 0.62, 0.68, 0.58, 0.64, 0.58, 0.66]
WIND_22_HI = [1.23, 1.16, 1.08, 1.31, 1.24, 0.92, 0.74, 0.72, 0.78, 0.92, 0.79, 0.70]
WIND_22_MEAN = [0.34, 0.29, 0.41, 0.44, 0.41, 0.52, 0.58, 0.65, 0.50, 0.57, 0.52, 0.62]
WIND_22_OHI = [3.55, 2.28, 1.50, 1.85, 1.70, 3.20, 1.40, 0.75, 0.80, 1.05, 0.80, 0.75]
WIND_22_OLO = [N, N, N, N, N, 0, 0, 0, 0, 0, 0, 0]

# axis ranges (lo, hi, tick step) per row
YRANGE = {
    'UTCI': [(18.5, 29.0, 2), (17.45, 28.7, 2), (19.4, 29.6, 2), (22.8, 45.3, 5), (25.1, 49.9, 5),
             (27.7, 50.5, 5), (28.1, 52.3, 5), (27.8, 54.4, 5), (28.8, 43.2, 2), (24.9, 33.8, 1),
             (23.9, 32.1, 2)],
    'LST': [(16.5, 25.0, 1), (15.65, 25.2, 2), (17.5, 25.4, 1), (16.6, 39.4, 5), (14.5, 51.5, 5),
            (13.7, 56.7, 5), (13.7, 57.4, 5), (14.35, 53.8, 5), (16.1, 44.2, 5), (17.5, 35.1, 2),
            (17.9, 31.4, 2)],
    'TA': [(19.3, 28.3, 2), (18.9, 28.0, 2), (18.8, 27.6, 1), (18.7, 30.7, 2), (26.3, 33.9, 1),
           (28.3, 36.5, 1), (29.0, 37.4, 1), (20.2, 45.3, 5), (28.6, 35.2, 1), (25.7, 31.3, 1),
           (23.7, 30.0, 1)],
    'Wind': [(-1.2, 6.9, 1)] * 4 + [(-0.94, 5.6, 1), (-0.95, 5.55, 1), (-0.92, 5.34, 1),
                                    (-0.9, 5.3, 1), (-0.91, 5.27, 1), (-0.87, 5.15, 1), (-0.9, 5.1, 1)],
}

COLORS = ['#a5bad1', '#d8a9bb', '#b7c9dd', '#e1bccb', '#a9bfd5', '#c8a8c2', '#adc5bd',
          '#d6aabc', '#8fa8c4', '#e7c6d1', '#b8c7de', '#d2a8ba']

FONT = 'Liberation Serif'
W, H = 4169, 5931
# the page puts the figure a few px in from the left and ~21px down from the top;
# the figure is kept a little smaller than the window so nothing spills over
OY = 21
FW, FH = W - 40, H - 40
ROW0, PITCH = 107, 524
AX_TOP, AX_BOT = 88, 500
COL_X = [(172, 1038), (1203, 2070), (2233, 3100), (3263, 4129)]
HEAD_X = [(88, 1087), (1088, 2118), (2118, 3147), (3147, 4145)]
BOXW = 0.62


# positions below are pixels of the reference picture; map them to paper fractions
def fx(x):
    return x / W


def fy(y):
    return 1 - (y - OY) / FH


def stats(var, hour):
    g = globals()
    key = var.upper() + '_' + hour
    return [g[key + '_' + s] for s in ('LO', 'Q1', 'MED', 'Q3', 'HI', 'MEAN', 'OHI', 'OLO')]


fig = go.Figure()
layout = {}
annotations = []
shapes = []

for r, hour in enumerate(HOURS):
    top = ROW0 + r * PITCH
    for c, var in enumerate(VARS):
        k = r * 4 + c + 1
        xa = 'x' if k == 1 else 'x%d' % k
        ya = 'y' if k == 1 else 'y%d' % k
        lo, q1, med, q3, hi, mean, ohi, olo = stats(var, hour)

        # outlier columns (faint dotted streaks)
        ox, oy = [], []
        for i in range(12):
            if ohi[i] is not None:
                ox += [i, i, None]
                oy += [hi[i], ohi[i], None]
            if olo[i] is not None:
                ox += [i, i, None]
                oy += [lo[i], olo[i], None]
        fig.add_trace(go.Scatter(x=ox, y=oy, mode='lines', xaxis=xa, yaxis=ya,
                                 line=dict(color='rgba(120,150,195,0.45)', width=2.5, dash='dot'),
                                 showlegend=False, hoverinfo='skip'))

        for i in range(12):
            fig.add_trace(go.Box(x=[i], q1=[q1[i]], median=[med[i]], q3=[q3[i]],
                                 lowerfence=[lo[i]], upperfence=[hi[i]],
                                 fillcolor=COLORS[i], line=dict(color='#5f5f5f', width=2),
                                 whiskerwidth=0.45, width=BOXW, boxpoints=False,
                                 xaxis=xa, yaxis=ya, showlegend=False, hoverinfo='skip'))

        # darker median bars
        mx, my = [], []
        for i in range(12):
            mx += [i - BOXW / 2, i + BOXW / 2, None]
            my += [med[i], med[i], None]
        fig.add_trace(go.Scatter(x=mx, y=my, mode='lines', xaxis=xa, yaxis=ya,
                                 line=dict(color='#2e2e2e', width=4),
                                 showlegend=False, hoverinfo='skip'))

        fig.add_trace(go.Scatter(x=list(range(12)), y=mean, mode='markers', xaxis=xa, yaxis=ya,
                                 marker=dict(color='#56799f', size=6, symbol='circle'),
                                 showlegend=False, hoverinfo='skip'))

        x0, x1 = COL_X[c]
        ylo, yhi, dt = YRANGE[var][r]
        layout['xaxis' if k == 1 else 'xaxis%d' % k] = dict(
            domain=[fx(x0), fx(x1)], anchor=ya, range=[-0.5, 11.5],
            tickmode='array', tickvals=list(range(12)), ticktext=CATS,
            showline=True, linecolor='black', linewidth=4, ticks='outside', ticklen=7,
            tickwidth=2, tickcolor='black', showgrid=False, zeroline=False,
            tickfont=dict(family=FONT, size=22, color='#222222'))
        layout['yaxis' if k == 1 else 'yaxis%d' % k] = dict(
            domain=[fy(top + AX_BOT), fy(top + AX_TOP)], anchor=xa, range=[ylo, yhi],
            tick0=0, dtick=dt, showline=True, linecolor='black', linewidth=3,
            ticks='outside', ticklen=7, tickwidth=2, tickcolor='black',
            showgrid=False, zeroline=False,
            tickfont=dict(family=FONT, size=28, color='#222222'))

        annotations.append(dict(text='%s at %s:00' % (var, hour), x=fx((x0 + x1) / 2), y=fy(top + 68),
                                xref='paper', yref='paper', showarrow=False, xanchor='center',
                                yanchor='middle', font=dict(family=FONT, size=55, color='#111111')))
        annotations.append(dict(text=var, x=fx(x0 - 67), y=fy(top + (AX_TOP + AX_BOT) / 2),
                                xref='paper', yref='paper', showarrow=False, textangle=-90,
                                xanchor='center', yanchor='middle',
                                font=dict(family=FONT, size=35, color='#111111')))

    # row label box
    shapes.append(dict(type='rect', xref='paper', yref='paper', x0=fx(25), x1=fx(84),
                       y0=fy(top + PITCH), y1=fy(top), line=dict(color='#111111', width=3)))
    annotations.append(dict(text='<b>%s</b>' % ROW_LABELS[r], x=fx(54.5), y=fy(top + PITCH / 2),
                            xref='paper', yref='paper', showarrow=False, textangle=-90,
                            xanchor='center', yanchor='middle',
                            font=dict(family=FONT, size=66, color='#111111')))

for c, head in enumerate(HEADERS):
    hx0, hx1 = HEAD_X[c]
    shapes.append(dict(type='rect', xref='paper', yref='paper', x0=fx(hx0), x1=fx(hx1),
                       y0=fy(104), y1=fy(29), line=dict(color='#111111', width=3)))
    annotations.append(dict(text='<b>%s</b>' % head, x=fx((hx0 + hx1) / 2), y=fy(66),
                            xref='paper', yref='paper', showarrow=False, xanchor='center',
                            yanchor='middle', font=dict(family=FONT, size=50, color='#111111')))

fig.update_layout(**layout)
fig.update_layout(width=FW, height=FH, margin=dict(l=0, r=0, t=0, b=0),
                  plot_bgcolor='white', paper_bgcolor='white', boxmode='overlay',
                  annotations=annotations, shapes=shapes, showlegend=False)

fig.write_html("out.html")
